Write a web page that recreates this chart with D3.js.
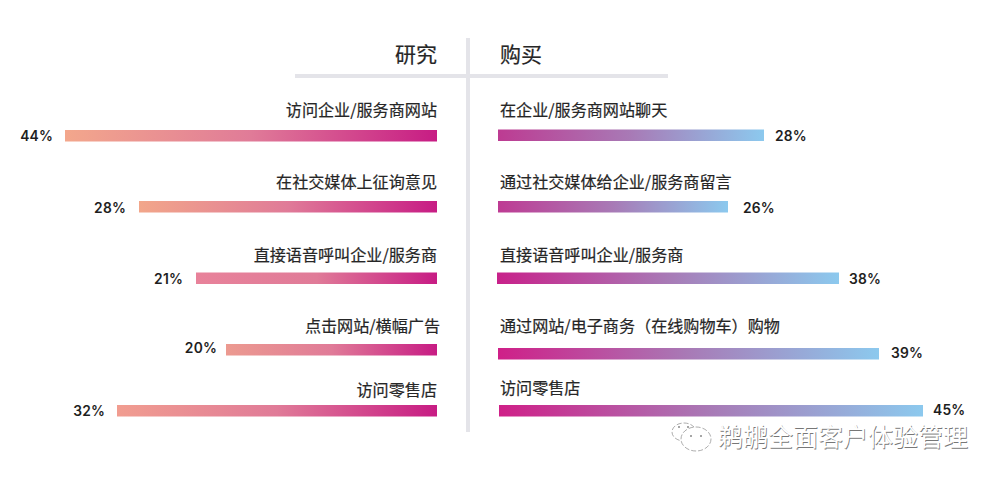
<!DOCTYPE html>
<html>
<head>
<meta charset="utf-8">
<script src="https://cdn.jsdelivr.net/npm/d3@7"></script>
<style>
  html, body { margin: 0; padding: 0; background: #fff; }
  svg { display: block; }
  text { font-family: "Noto Sans CJK SC", sans-serif; fill: #262626; }
  .pct { font-family: Inter, sans-serif; font-weight: 600; font-size: 13.8px; letter-spacing: 0.2px; fill: #1e1e1e; }
  .label { font-size: 16.1px; stroke: #262626; stroke-width: 0.2px; }
  .head { font-size: 21px; stroke: #262626; stroke-width: 0.2px; }
</style>
</head>
<body>
<div id="chart"></div>
<script>
const headers = ['研究', '购买']

const researchLabels = ['访问企业/服务商网站', '在社交媒体上征询意见', '直接语音呼叫企业/服务商', '点击网站/横幅广告', '访问零售店']
const researchValues = [44, 28, 21, 20, 32]

const buyLabels = ['在企业/服务商网站聊天', '通过社交媒体给企业/服务商留言', '直接语音呼叫企业/服务商', '通过网站/电子商务（在线购物车）购物', '访问零售店']
const buyValues = [28, 26, 38, 39, 45]

const watermark = '鹈鹕全面客户体验管理'

const width = 1000
const height = 480

const svg = d3.select('#chart').append('svg')
  .attr('width', width)
  .attr('height', height)

const defs = svg.append('defs')

function gradient (id, stops) {
  const g = defs.append('linearGradient').attr('id', id)
  stops.forEach((c, i) => {
    g.append('stop').attr('offset', i / (stops.length - 1)).attr('stop-color', c)
  })
}

// every bar starts at a slightly different tint in the picture
const leftStart = ['#f3a78c', '#f2a68a', '#e8829a', '#ec9a90', '#f19d90']
const rightStart = ['#bd3b92', '#be3b93', '#c8218a', '#cf1f88', '#cf2088']
leftStart.forEach((c, i) => gradient('gradLeft' + i, [c, '#e07b98', '#c71c84']))
rightStart.forEach((c, i) => gradient('gradRight' + i, [c, '#a87ab6', '#8cc9ee']))

// the bars in the picture are not proportional to their printed percentages,
// so each side gets a piecewise scale fitted to the drawn lengths
const leftLength = d3.scaleLinear()
  .domain([20, 21, 28, 32, 44])
  .range([211, 241, 298, 320, 372])
const rightLength = d3.scaleLinear()
  .domain([26, 28, 38, 39, 45])
  .range([230, 266, 342, 381, 424])

// rows are not evenly spaced either, and the two sides differ a little
const rows = d3.range(5)
const leftBarY = d3.scaleOrdinal().domain(rows).range([130, 201, 272.5, 344, 405])
const rightBarY = d3.scaleOrdinal().domain(rows).range([129.5, 201, 272.5, 348, 405])
const leftTextY = d3.scaleOrdinal().domain(rows).range([116, 188, 261, 332, 396])
const rightTextY = d3.scaleOrdinal().domain(rows).range([116, 188, 261, 332, 394])
const leftPctY = d3.scaleOrdinal().domain(rows).range([141, 212.5, 284, 353, 416])
const rightPctY = d3.scaleOrdinal().domain(rows).range([141, 212.5, 284, 358, 415])
const leftPctGap = d3.scaleOrdinal().domain(rows).range([12, 13, 13, 9, 12])
const rightPctGap = d3.scaleOrdinal().domain(rows).range([11, 15, 10, 12, 10])
const rightBarX = d3.scaleOrdinal().domain(rows).range([498, 498, 497, 498, 499])

const leftEdge = 437
const barHeight = 11.5

// frame
const rule = svg.append('g').attr('fill', '#e4e4e9')
rule.append('rect').attr('x', 466).attr('y', 38).attr('width', 4).attr('height', 394)
rule.append('rect').attr('x', 295).attr('y', 74).attr('width', 373).attr('height', 4)

svg.append('text').attr('class', 'head').attr('x', 437).attr('y', 62).attr('text-anchor', 'end').text(headers[0])
svg.append('text').attr('class', 'head').attr('x', 500).attr('y', 62).text(headers[1])

// research, grows to the left
const left = svg.append('g').selectAll('g')
  .data(researchValues)
  .join('g')

left.append('text').attr('class', 'label')
  .attr('x', (d, i) => i === 3 ? leftEdge + 3 : leftEdge)
  .attr('y', (d, i) => leftTextY(i))
  .attr('text-anchor', 'end')
  .text((d, i) => researchLabels[i])
left.append('rect')
  .attr('x', d => leftEdge - leftLength(d))
  .attr('y', (d, i) => leftBarY(i))
  .attr('width', d => leftLength(d))
  .attr('height', barHeight)
  .attr('fill', (d, i) => 'url(#gradLeft' + i + ')')
left.append('text').attr('class', 'pct')
  .attr('x', (d, i) => leftEdge - leftLength(d) - leftPctGap(i))
  .attr('y', (d, i) => leftPctY(i))
  .attr('text-anchor', 'end')
  .text(d => d + '%')

// purchase, grows to the right
const right = svg.append('g').selectAll('g')
  .data(buyValues)
  .join('g')

right.append('text').attr('class', 'label')
  .attr('x', 500)
  .attr('y', (d, i) => rightTextY(i))
  .text((d, i) => buyLabels[i])
right.append('rect')
  .attr('x', (d, i) => rightBarX(i))
  .attr('y', (d, i) => rightBarY(i))
  .attr('width', d => rightLength(d))
  .attr('height', barHeight)
  .attr('fill', (d, i) => 'url(#gradRight' + i + ')')
right.append('text').attr('class', 'pct')
  .attr('x', (d, i) => rightBarX(i) + rightLength(d) + rightPctGap(i))
  .attr('y', (d, i) => rightPctY(i))
  .text(d => d + '%')

// watermark: white text with a thin dark edge, plus the two chat bubbles
const mark = svg.append('g')
function markText (dx, dy, fill) {
  mark.append('text')
    .attr('x', 718 + dx).attr('y', 446 + dy)
    .style('font-size', '25px')
    .style('fill', fill)
    .text(watermark)
}
markText(0.7, 0.7, '#777')
markText(0, 0, '#fff')

const bubbles = mark.append('g')
  .attr('fill', '#fff')
  .attr('stroke', '#8a8a8a')
  .attr('stroke-width', 0.7)
  .attr('stroke-dasharray', '5 2')
bubbles.append('ellipse').attr('cx', 684).attr('cy', 432).attr('rx', 12).attr('ry', 9)
bubbles.append('ellipse').attr('cx', 696).attr('cy', 439).attr('rx', 15).attr('ry', 12)
mark.append('g').attr('fill', '#888').selectAll('circle')
  .data([[679, 427], [688, 427], [691, 436], [701, 436]])
  .join('circle')
  .attr('cx', d => d[0])
  .attr('cy', d => d[1])
  .attr('r', 1)
</script>
</body>
</html>
